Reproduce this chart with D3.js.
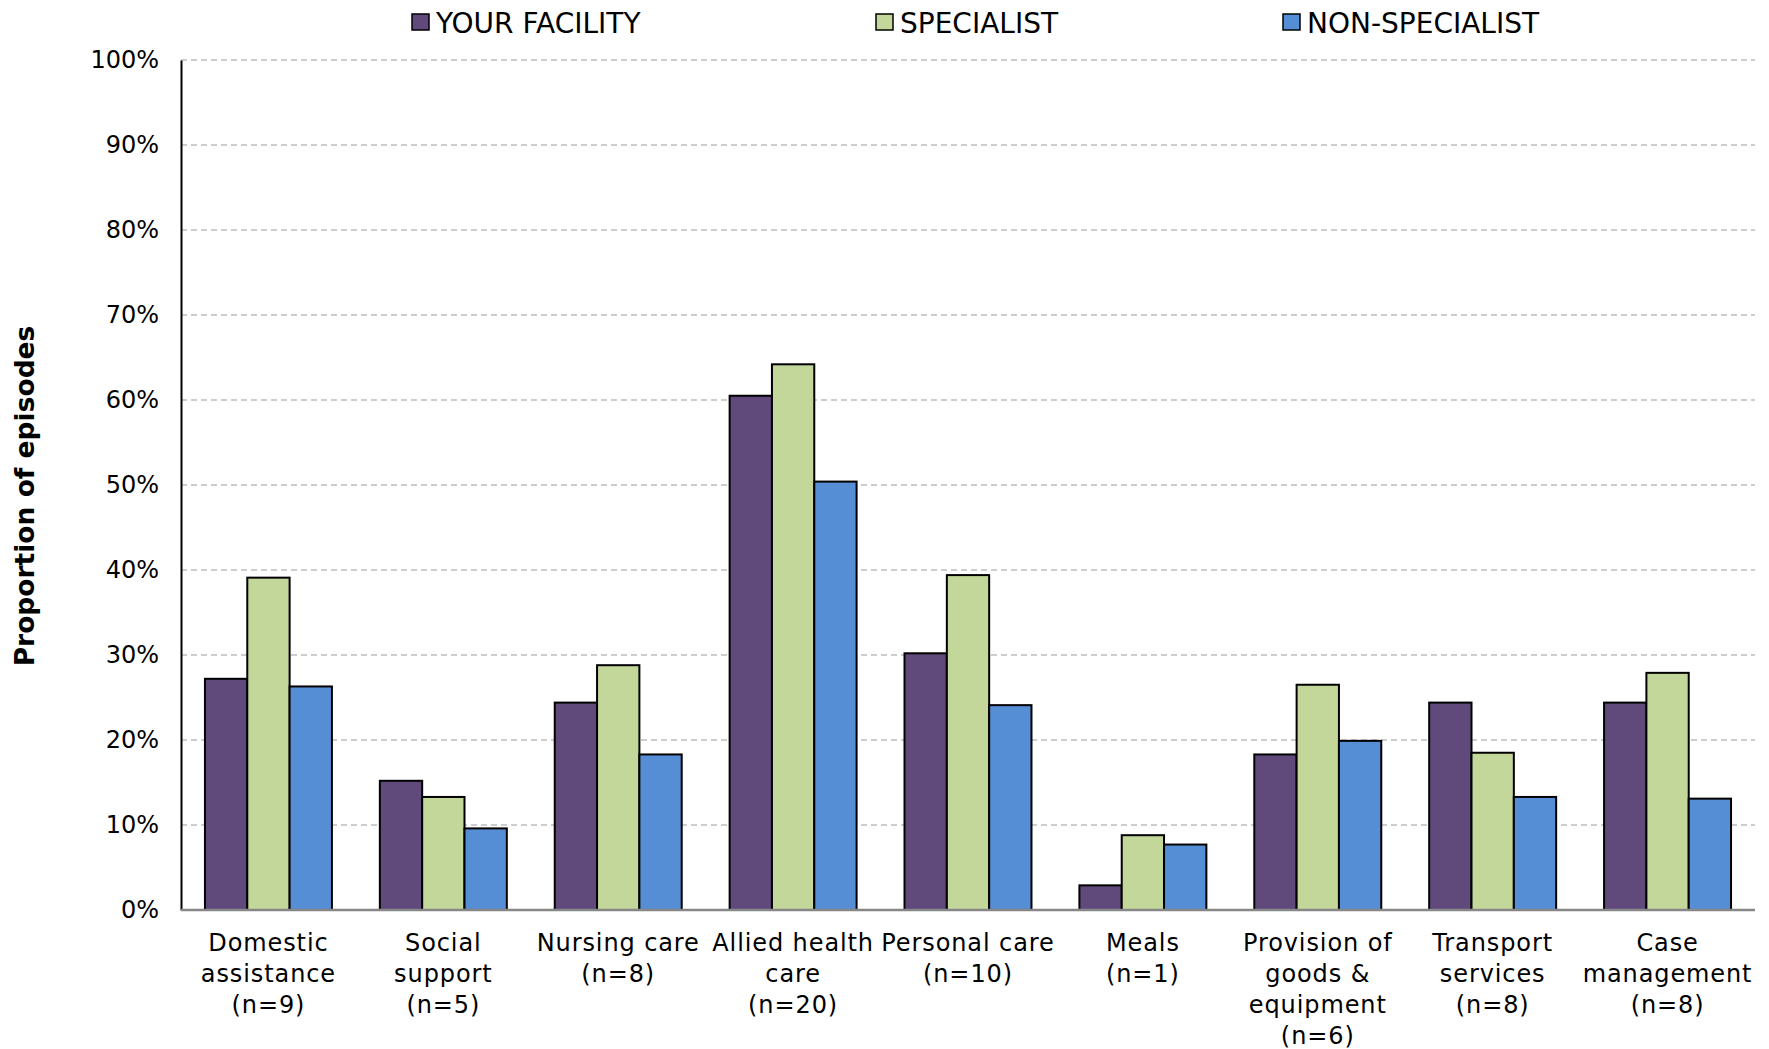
<!DOCTYPE html>
<html>
<head>
<meta charset="utf-8">
<script src="https://cdn.jsdelivr.net/npm/d3@7"></script>
<style>
  html, body { margin: 0; padding: 0; background: #fff; }
  svg { display: block; }
  .tick text { font-family: "DejaVu Sans", sans-serif; }
</style>
</head>
<body>
<div id="chart"></div>
<script>
// categories (line breaks as in the original labels)
const categories = [
  "Domestic\nassistance",
  "Social\nsupport",
  "Nursing care",
  "Allied health\ncare",
  "Personal care",
  "Meals",
  "Provision of\ngoods &\nequipment",
  "Transport\nservices",
  "Case\nmanagement"
];
const counts = [9, 5, 8, 20, 10, 1, 6, 8, 8];

const seriesNames = ["YOUR FACILITY", "SPECIALIST", "NON-SPECIALIST"];
const yourFacility  = [0.272, 0.152, 0.244, 0.605, 0.302, 0.029, 0.183, 0.244, 0.244];
const specialist    = [0.391, 0.133, 0.288, 0.642, 0.394, 0.088, 0.265, 0.185, 0.279];
const nonSpecialist = [0.263, 0.096, 0.183, 0.504, 0.241, 0.077, 0.199, 0.133, 0.131];
const yTicks = [0, 0.1, 0.2, 0.3, 0.4, 0.5, 0.6, 0.7, 0.8, 0.9, 1.0];

const colors = ["#604a7b", "#c4d79b", "#558ed5"];

const W = 1769, H = 1049;
const margin = {top: 60, right: 14, bottom: 139, left: 181};

const svg = d3.select("#chart").append("svg")
  .attr("width", W)
  .attr("height", H);

const x0 = d3.scaleBand()
  .domain(categories)
  .range([margin.left, W - margin.right])
  .paddingInner(0.274)
  .paddingOuter(0.137);

const x1 = d3.scaleBand()
  .domain(seriesNames)
  .range([0, x0.bandwidth()]);

const y = d3.scaleLinear()
  .domain([0, 1])
  .range([H - margin.bottom, margin.top]);

const color = d3.scaleOrdinal().domain(seriesNames).range(colors);

// gridlines
svg.append("g")
  .selectAll("line")
  .data(yTicks.filter(d => d > 0))
  .join("line")
  .attr("x1", margin.left)
  .attr("x2", W - margin.right)
  .attr("y1", d => y(d))
  .attr("y2", d => y(d))
  .attr("stroke", "#bdbdbd")
  .attr("stroke-width", 1.5)
  .attr("stroke-dasharray", "6,4");

// bars
const table = categories.map((c, i) => ({
  cat: c,
  values: [yourFacility[i], specialist[i], nonSpecialist[i]]
}));

const groups = svg.append("g")
  .selectAll("g")
  .data(table)
  .join("g")
  .attr("transform", d => `translate(${x0(d.cat)},0)`);

groups.selectAll("rect")
  .data(d => d.values.map((v, j) => ({series: seriesNames[j], value: v})))
  .join("rect")
  .attr("x", d => x1(d.series))
  .attr("y", d => y(d.value))
  .attr("width", x1.bandwidth())
  .attr("height", d => y(0) - y(d.value))
  .attr("fill", d => color(d.series))
  .attr("stroke", "#000")
  .attr("stroke-width", 2);

// y axis
const yAxis = d3.axisLeft(y)
  .tickValues(yTicks)
  .tickFormat(d3.format(".0%"))
  .tickSize(0)
  .tickPadding(22);

const yg = svg.append("g")
  .attr("transform", `translate(${margin.left},0)`)
  .call(yAxis);
yg.select(".domain").attr("stroke", "#000").attr("stroke-width", 2);
yg.selectAll(".tick text")
  .attr("font-size", 24)
  .attr("fill", "#000");

// x axis line (gray)
svg.append("line")
  .attr("x1", margin.left)
  .attr("x2", W - margin.right)
  .attr("y1", y(0))
  .attr("y2", y(0))
  .attr("stroke", "#878787")
  .attr("stroke-width", 2.5);

// category labels
const labels = svg.append("g")
  .selectAll("text")
  .data(categories)
  .join("text")
  .attr("text-anchor", "middle")
  .attr("font-family", "DejaVu Sans, sans-serif")
  .attr("font-size", 24)
  .attr("letter-spacing", 0.9)
  .attr("fill", "#000")
  .attr("transform", d => `translate(${x0(d) + x0.bandwidth() / 2},${y(0) + 41})`);

labels.each(function(d, i) {
  const lines = d.split("\n").concat([`(n=${counts[i]})`]);
  d3.select(this).selectAll("tspan")
    .data(lines)
    .join("tspan")
    .attr("x", 0)
    .attr("y", (l, k) => k * 31)
    .text(l => l);
});

// y axis title
svg.append("text")
  .attr("transform", `translate(34,${(y(0) + y(1)) / 2 + 11}) rotate(-90)`)
  .attr("text-anchor", "middle")
  .attr("font-family", "DejaVu Sans, sans-serif")
  .attr("font-weight", "bold")
  .attr("font-size", 26.5)
  .text("Proportion of episodes");

// legend
const legendX = [412, 876, 1283];
const legend = svg.append("g")
  .selectAll("g")
  .data(seriesNames)
  .join("g")
  .attr("transform", (d, i) => `translate(${legendX[i]},14)`);

legend.append("rect")
  .attr("width", 17)
  .attr("height", 16)
  .attr("fill", d => color(d))
  .attr("stroke", "#000")
  .attr("stroke-width", 1.5);

legend.append("text")
  .attr("x", 24)
  .attr("y", 19)
  .attr("font-family", "DejaVu Sans, sans-serif")
  .attr("font-size", 28)
  .text(d => d);
</script>
</body>
</html>
